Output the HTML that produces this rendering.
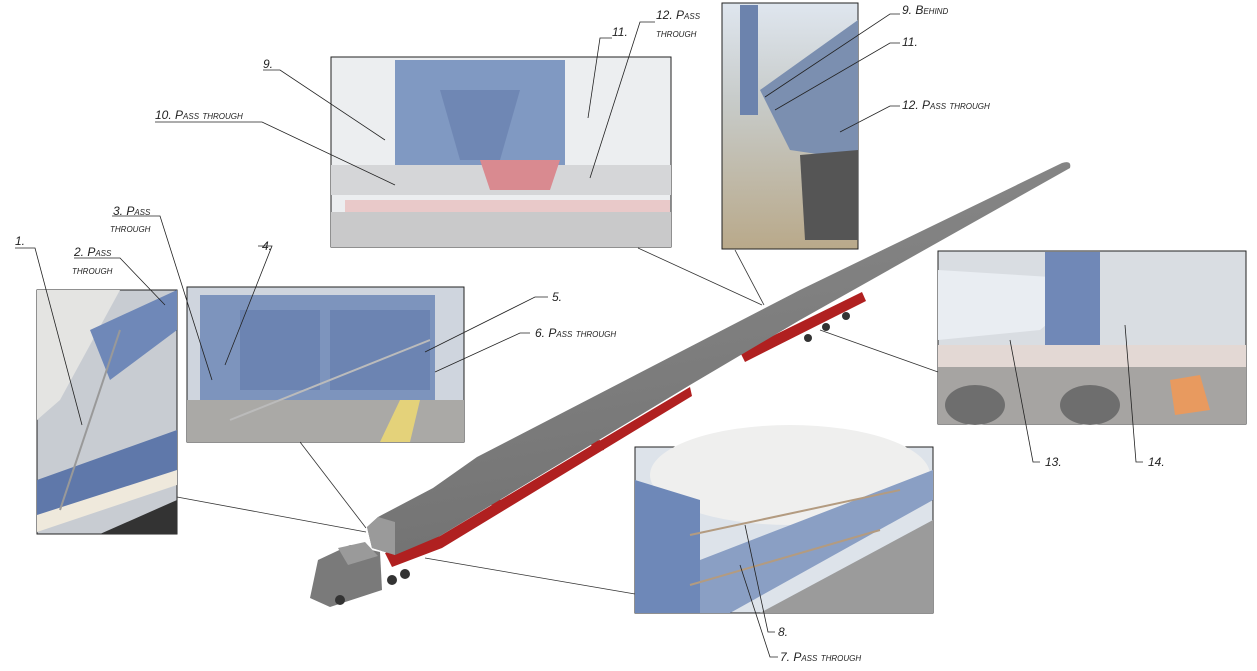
<!DOCTYPE html>
<html><head><style>
body{margin:0;background:#fff;}
svg{display:block;font-family:"Liberation Sans",sans-serif;}
text{font-size:12px;font-style:italic;fill:#222;font-variant:small-caps;}
</style></head><body>
<svg width="1257" height="671" viewBox="0 0 1257 671">
<defs>
<linearGradient id="grass" x1="0" y1="0" x2="0" y2="1"><stop offset="0" stop-color="#dfe6ef"/><stop offset="0.4" stop-color="#c7cbc9"/><stop offset="1" stop-color="#b9a98a"/></linearGradient>
<linearGradient id="bl" x1="0" y1="0" x2="0.3" y2="1"><stop offset="0" stop-color="#8c8c8c"/><stop offset="1" stop-color="#727272"/></linearGradient>
</defs>

<!-- Photo A -->
<rect x="37" y="290" width="140" height="244" fill="#c8ccd2" stroke="#222"/>
<polygon points="37,290 120,290 60,400 37,420" fill="#e4e4e2"/>
<polygon points="90,330 177,290 177,330 110,380" fill="#6f88b8"/>
<polygon points="37,480 177,430 177,470 37,525" fill="#5f78aa"/>
<polygon points="37,515 177,470 177,485 37,532" fill="#efe9dc"/>
<polygon points="100,534 177,500 177,534" fill="#333"/>
<line x1="60" y1="510" x2="120" y2="330" stroke="#999" stroke-width="2"/>
<!-- Photo B -->
<rect x="187" y="287" width="277" height="155" fill="#cfd5de" stroke="#222"/>
<rect x="200" y="295" width="235" height="105" fill="#7d94bd"/>
<polygon points="240,310 320,310 320,390 240,390" fill="#6c84b2"/>
<polygon points="330,310 430,310 430,390 330,390" fill="#6c84b2"/>
<rect x="187" y="400" width="277" height="42" fill="#aaa9a6"/>
<polygon points="380,442 400,400 420,400 410,442" fill="#e4d27a"/>
<line x1="230" y1="420" x2="430" y2="340" stroke="#bbb" stroke-width="2"/>
<!-- Photo C -->
<rect x="331" y="57" width="340" height="190" fill="#eceef0" stroke="#222"/>
<rect x="395" y="60" width="170" height="105" fill="#8099c2"/>
<polygon points="440,90 520,90 500,160 460,160" fill="#6f87b4"/>
<rect x="331" y="165" width="340" height="30" fill="#d5d6d8"/>
<rect x="345" y="200" width="325" height="12" fill="#e9c9c9"/>
<polygon points="480,160 560,160 550,190 490,190" fill="#d98a90"/>
<rect x="331" y="212" width="340" height="35" fill="#c9c9ca"/>
<!-- Photo D -->
<rect x="722" y="3" width="136" height="246" fill="url(#grass)" stroke="#222"/>
<rect x="740" y="5" width="18" height="110" fill="#6c83ad"/>
<polygon points="760,90 858,20 858,160 790,150" fill="#7b8fb0"/>
<polygon points="800,155 858,150 858,240 805,240" fill="#555"/>
<!-- Photo E -->
<rect x="938" y="251" width="308" height="173" fill="#d9dde2" stroke="#222"/>
<polygon points="938,270 1100,280 1040,330 938,340" fill="#e9edf2"/>
<rect x="1045" y="252" width="55" height="100" fill="#7088b7"/>
<rect x="938" y="345" width="308" height="22" fill="#e3d8d4"/>
<rect x="938" y="367" width="308" height="57" fill="#a6a4a2"/>
<ellipse cx="975" cy="405" rx="30" ry="20" fill="#6e6e6e"/>
<ellipse cx="1090" cy="405" rx="30" ry="20" fill="#6e6e6e"/>
<polygon points="1170,380 1200,375 1210,410 1175,415" fill="#e89a5f"/>
<!-- Photo F -->
<rect x="635" y="447" width="298" height="166" fill="#dde3ea" stroke="#222"/>
<ellipse cx="790" cy="475" rx="140" ry="50" fill="#efefee"/>
<polygon points="635,480 700,500 700,613 635,613" fill="#6e88b8"/>
<polygon points="700,560 933,470 933,500 730,613 700,613" fill="#8a9fc4"/>
<polygon points="760,613 933,520 933,613" fill="#9b9b9b"/>
<line x1="690" y1="535" x2="900" y2="490" stroke="#b39b80" stroke-width="2"/>
<line x1="690" y1="585" x2="880" y2="530" stroke="#b39b80" stroke-width="2"/>

<!-- blade connectors -->
<g stroke="#333" stroke-width="0.8" fill="none">
<line x1="177" y1="497" x2="366" y2="532"/>
<line x1="300" y1="442" x2="366" y2="528"/>
<line x1="638" y1="248" x2="762" y2="305"/>
<line x1="735" y1="250" x2="764" y2="305"/>
<line x1="938" y1="372" x2="820" y2="330"/>
<line x1="635" y1="594" x2="425" y2="558"/>
</g>

<!-- trailer -->
<polygon points="385,553 440,536 690,387 692,396 442,548 392,567" fill="#b02020"/>
<polygon points="740,352 862,292 866,301 745,362" fill="#b02020"/>
<polygon points="590,442 600,440 604,450 594,452" fill="#b02020"/>
<polygon points="490,502 500,499 504,509 494,511" fill="#b02020"/>
<circle cx="808" cy="338" r="4" fill="#333"/><circle cx="826" cy="327" r="4" fill="#333"/><circle cx="846" cy="316" r="4" fill="#333"/>
<!-- blade -->
<path d="M367,527 L378,517 L433,488 L477,457 L800,290 L1062,163 Q1072,160 1070,168 L800,320 L690,385 L440,536 L395,555 L372,548 Z" fill="url(#bl)"/>
<path d="M367,527 L378,517 L395,522 L395,555 L372,548 Z" fill="#9a9a9a"/>
<!-- truck -->
<polygon points="318,560 350,545 380,552 382,590 330,607 310,598" fill="#7a7a7a"/>
<polygon points="338,548 365,542 378,556 348,565" fill="#9a9a9a"/>
<circle cx="392" cy="580" r="5" fill="#333"/><circle cx="405" cy="574" r="5" fill="#333"/><circle cx="340" cy="600" r="5" fill="#333"/>

<!-- callout leaders -->
<g stroke="#222" stroke-width="0.8" fill="none">
<polyline points="15,248 35,248 82,425"/>
<polyline points="74,258 120,258 165,305"/>
<polyline points="112,216 160,216 212,380"/>
<polyline points="258,246 272,246 225,365"/>
<polyline points="548,297 535,297 425,352"/>
<polyline points="530,333 520,333 435,372"/>
<polyline points="263,70 280,70 385,140"/>
<polyline points="155,122 262,122 395,185"/>
<polyline points="612,38 600,38 588,118"/>
<polyline points="655,22 640,22 590,178"/>
<polyline points="900,14 890,14 765,97"/>
<polyline points="900,43 890,43 775,110"/>
<polyline points="900,106 890,106 840,132"/>
<polyline points="1040,462 1033,462 1010,340"/>
<polyline points="1143,462 1136,462 1125,325"/>
<polyline points="775,632 768,632 745,525"/>
<polyline points="778,657 770,657 740,565"/>
</g>

<!-- labels -->
<text x="15" y="245">1.</text>
<text x="74" y="256">2. Pass</text><text x="72" y="274">through</text>
<text x="113" y="215">3. Pass</text><text x="110" y="232">through</text>
<text x="262" y="250">4.</text>
<text x="552" y="301">5.</text>
<text x="535" y="337">6. Pass through</text>
<text x="263" y="68">9.</text>
<text x="155" y="119">10. Pass through</text>
<text x="612" y="36">11.</text>
<text x="656" y="19">12. Pass</text><text x="656" y="37">through</text>
<text x="902" y="14">9. Behind</text>
<text x="902" y="46">11.</text>
<text x="902" y="109">12. Pass through</text>
<text x="1045" y="466">13.</text>
<text x="1148" y="466">14.</text>
<text x="778" y="636">8.</text>
<text x="780" y="661">7. Pass through</text>
</svg>
</body></html>
